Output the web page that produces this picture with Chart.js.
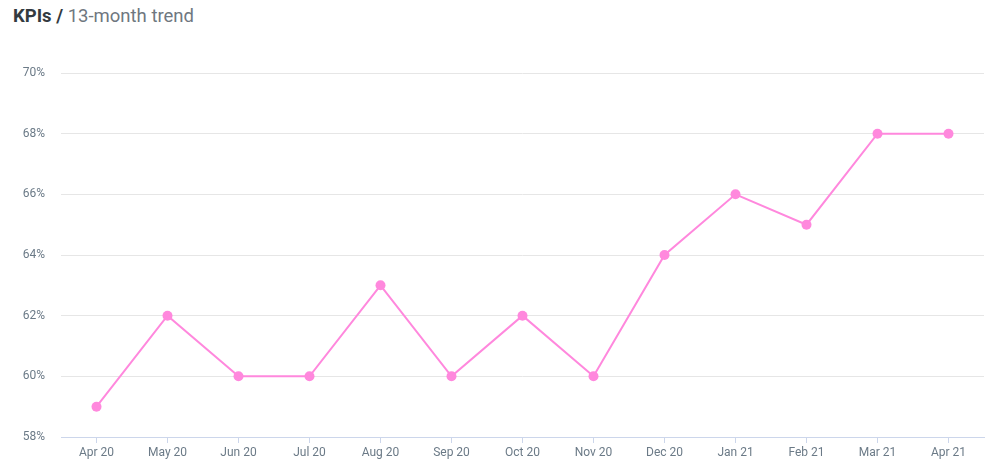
<!DOCTYPE html>
<html>
<head>
<meta charset="utf-8">
<script src="https://cdn.jsdelivr.net/npm/chart.js@4"></script>
<style>
  html, body { margin:0; padding:0; background:#fff; }
  body { width:1000px; height:473px; position:relative; overflow:hidden; font-family:Roboto, sans-serif; }
  #title { position:absolute; left:13px; top:5px; font-size:18.5px; color:#6f7780; white-space:nowrap; }
  #title b { color:#333a40; font-weight:700; }
  #wrap { position:absolute; left:0; top:0; width:1000px; height:473px; }
</style>
</head>
<body>
<div id="title"><b>KPIs /</b> 13-month trend</div>
<div id="wrap"><canvas id="c"></canvas></div>
<script>
  // chart data
  const months = ['Apr 20','May 20','Jun 20','Jul 20','Aug 20','Sep 20','Oct 20','Nov 20','Dec 20','Jan 21','Feb 21','Mar 21','Apr 21'];
  const kpiValues = [59, 62, 60, 60, 63, 60, 62, 60, 64, 66, 65, 68, 68];
  const yMin = 58, yMax = 70, yStep = 2;

  const pink = '#ff88dd';
  const labelColor = '#6b7a87';

  new Chart(document.getElementById('c'), {
    type: 'line',
    data: {
      labels: months,
      datasets: [{
        data: kpiValues,
        borderColor: pink,
        backgroundColor: pink,
        borderWidth: 2,
        pointRadius: 5,
        pointHoverRadius: 5,
        pointBorderWidth: 0,
        tension: 0
      }]
    },
    options: {
      responsive: true,
      maintainAspectRatio: false,
      animation: false,
      layout: { padding: { top: 73, right: 16, bottom: 0, left: 0 } },
      plugins: { legend: { display: false }, tooltip: { enabled: false } },
      scales: {
        x: {
          offset: true,
          grid: { drawOnChartArea: false, drawTicks: true, tickLength: 6, color: '#ccd6eb', offset: false },
          border: { display: true, color: '#ccd6eb', width: 1 },
          ticks: { color: labelColor, font: { family: 'Roboto', size: 12 }, padding: 3, maxRotation: 0, autoSkip: false },
          afterFit: s => { s.height = 36; }
        },
        y: {
          min: yMin, max: yMax,
          grid: { color: '#e6e6e6', drawTicks: false },
          border: { display: false },
          ticks: { stepSize: yStep, color: labelColor, font: { family: 'Roboto', size: 12 }, padding: 16, callback: v => v + '%' },
          afterFit: s => { s.width = 61; }
        }
      }
    }
  });
</script>
</body>
</html>
